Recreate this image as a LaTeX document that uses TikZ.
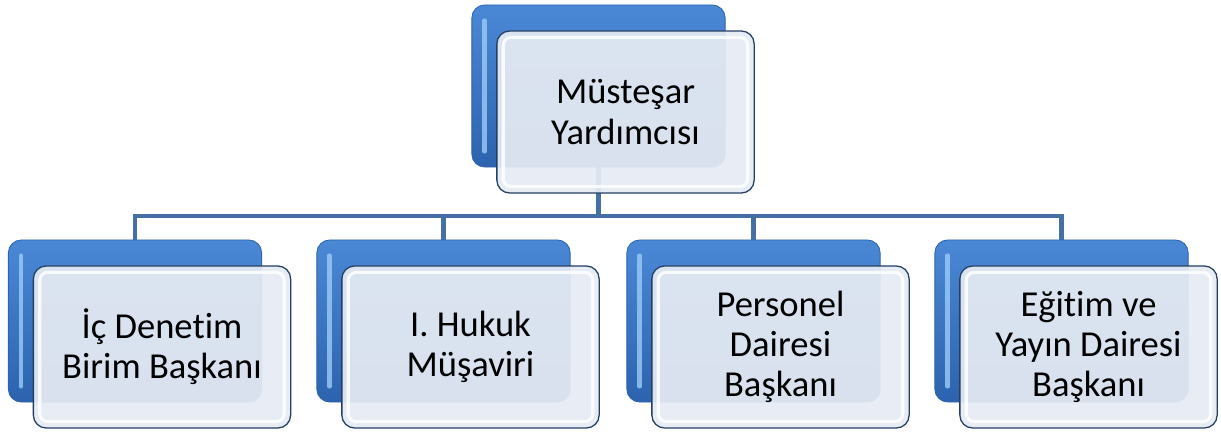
\documentclass[tikz,border=0pt]{standalone}
\usepackage{fontspec}
\setmainfont[Ligatures=NoCommon]{Carlito}
\usetikzlibrary{positioning,backgrounds}
\definecolor{boxblue}{HTML}{4A88D6}
\definecolor{boxbluedark}{HTML}{2D63AE}
\definecolor{boxbluelight}{HTML}{9CCBF5}
\definecolor{glassfill}{HTML}{E6EBF3}
\definecolor{glassedge}{HTML}{233F62}
\definecolor{linkblue}{HTML}{4570A6}
\tikzset{
  backbox/.style={draw=boxbluedark, line width=0.6pt, rounded corners=0.32cm,
    top color=boxblue, bottom color=boxbluedark,
    minimum width=6.33cm, minimum height=4.05cm, inner sep=0pt},
  frontbox/.style={draw=glassedge, line width=0.9pt, rounded corners=0.32cm,
    fill=glassfill, fill opacity=0.93, text opacity=1,
    minimum width=6.43cm, minimum height=4.05cm, inner sep=0pt,
    align=center, font=\fontsize{26}{28.5}\selectfont},
  bevel/.style={boxbluelight, line width=3pt, line cap=round, opacity=0.8},
  glint/.style={white, line width=2.2pt, rounded corners=0.2cm, opacity=0.85},
  link/.style={draw=linkblue, line width=3pt}
}
\begin{document}
\begin{tikzpicture}[x=0.025cm, y=-0.025cm, line join=round]
  \useasboundingbox (0,0) rectangle (1221,433);
  \coordinate (bus) at (0,216);
  % top unit
  \node[backbox] (b0) at (598.5,86) {};
  \draw[bevel] ([shift={(13,16)}]b0.north west) -- ([shift={(13,-16)}]b0.south west);
  \node[frontbox] (f0) at ([shift={(27,26)}]b0.center) {Müsteşar\\Yardımcısı};
  \draw[glint] ([shift={(7,7)}]f0.north west) rectangle ([shift={(-7,-7)}]f0.south east);
  % bottom units
  \foreach \n/\x/\txt in {1/135/{İç Denetim\\Birim Başkanı},
                          2/443.5/{I. Hukuk\\Müşaviri},
                          3/753.5/{Personel\\Dairesi\\Başkanı},
                          4/1061.5/{Eğitim ve\\Yayın Dairesi\\Başkanı}} {
    \node[backbox] (b\n) at (\x,321) {};
    \draw[bevel] ([shift={(13,16)}]b\n.north west) -- ([shift={(13,-16)}]b\n.south west);
    \node[frontbox] (f\n) at ([shift={(27,26)}]b\n.center) {\txt};
    \draw[glint] ([shift={(7,7)}]f\n.north west) rectangle ([shift={(-7,-7)}]f\n.south east);
  }
  % connectors
  \begin{scope}[on background layer]
    \foreach \n in {1,...,4}
      \draw[link] (b0.south) -- (b0.south |- bus) -| (b\n.north);
  \end{scope}
\end{tikzpicture}
\end{document}
